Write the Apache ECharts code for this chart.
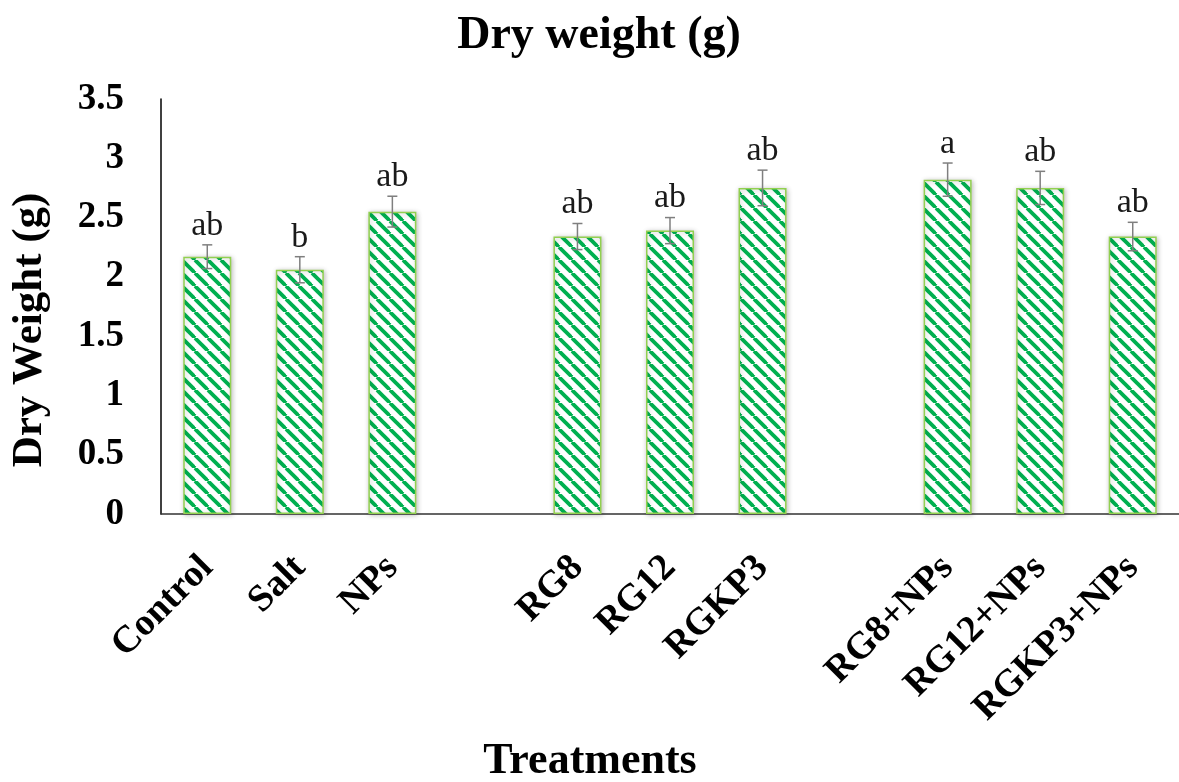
<!DOCTYPE html>
<html>
<head>
<meta charset="utf-8">
<script src="https://cdn.jsdelivr.net/npm/echarts@6/dist/echarts.min.js"></script>
<style>
html,body{margin:0;padding:0;background:#fff;}
#chart{width:1179px;height:782px;}
</style>
</head>
<body>
<div id="chart"></div>
<script>
const categories = ['Control','Salt','NPs','','RG8','RG12','RGKP3','','RG8+NPs','RG12+NPs','RGKP3+NPs'];
const dryWeight = [2.17, 2.06, 2.55, null, 2.34, 2.39, 2.75, null, 2.82, 2.75, 2.34];
const errors = [0.10, 0.11, 0.13, null, 0.11, 0.11, 0.15, null, 0.14, 0.14, 0.12];
const letters = ['ab','b','ab','','ab','ab','ab','','a','ab','ab'];
const yTicks = [0, 3.5, 0.5]; // min, max, interval

const FONT = '"Liberation Serif", "Times New Roman", serif';

function makePattern(){
  const s = 13;
  const c = document.createElement('canvas');
  c.width = s; c.height = s;
  const ctx = c.getContext('2d');
  ctx.fillStyle = '#ffffff';
  ctx.fillRect(0,0,s,s);
  ctx.strokeStyle = '#00b050';
  ctx.lineWidth = 3.8;
  for (const o of [-s, 0, s]) {
    ctx.beginPath();
    ctx.moveTo(o, 0);
    ctx.lineTo(o + s, s);
    ctx.stroke();
  }
  return c;
}

const chart = echarts.init(document.getElementById('chart'));
const errData = categories.map((c,i)=> dryWeight[i]==null ? null : [i, dryWeight[i], errors[i]]).filter(d=>d);

chart.setOption({
  animation:false,
  backgroundColor:'#ffffff',
  title:{
    text:'Dry weight (g)',
    left:594, top:8, textAlign:'center',
    textStyle:{fontFamily:FONT, fontWeight:'bold', fontSize:46, color:'#000'}
  },
  grid:{left:161, top:99, width:1020, height:415, containLabel:false},
  xAxis:{
    type:'category',
    data:categories,
    axisLine:{lineStyle:{color:'#333', width:1.5}},
    axisTick:{show:false},
    axisLabel:{rotate:45, interval:0, margin:48, fontFamily:FONT, fontWeight:'bold', fontSize:38, color:'#000'}
  },
  yAxis:{
    type:'value',
    min:yTicks[0], max:yTicks[1], interval:yTicks[2],
    axisLine:{show:true, lineStyle:{color:'#000', width:1.5}},
    axisTick:{show:false},
    splitLine:{show:false},
    axisLabel:{margin:37, fontFamily:FONT, fontWeight:'bold', fontSize:37, color:'#000'}
  },
  graphic:[
    {type:'text', x:30, y:330, rotation:Math.PI/2,
     style:{text:'Dry Weight (g)', font:'bold 43px ' + FONT, fill:'#000', textAlign:'center', textVerticalAlign:'middle'}},
    {type:'text', x:590, y:762,
     style:{text:'Treatments', font:'bold 44px ' + FONT, fill:'#000', textAlign:'center', textVerticalAlign:'middle'}}
  ],
  series:[
    {
      type:'bar',
      data:dryWeight,
      barWidth:48,
      itemStyle:{
        color:{image:makePattern(), repeat:'repeat'},
        borderColor:'#92d050', borderWidth:1.5,
        shadowBlur:5, shadowColor:'rgba(0,0,0,0.25)', shadowOffsetX:1, shadowOffsetY:1
      }
    },
    {
      type:'custom',
      data:errData,
      z:5,
      renderItem:function(params, api){
        const i = api.value(0), v = api.value(1), e = api.value(2);
        const top = api.coord([i, v + e]);
        const bot = api.coord([i, v - e]);
        const x = top[0];
        const cap = 5;
        const st = {stroke:'#7f7f7f', lineWidth:1.5};
        return {type:'group', children:[
          {type:'line', shape:{x1:x, y1:top[1], x2:x, y2:bot[1]}, style:st},
          {type:'line', shape:{x1:x-cap, y1:top[1], x2:x+cap, y2:top[1]}, style:st},
          {type:'line', shape:{x1:x-cap, y1:bot[1], x2:x+cap, y2:bot[1]}, style:st},
          {type:'text', x:x, y:top[1]-2, style:{text:letters[i], font:'34px ' + FONT, fill:'#1a1a1a', textAlign:'center', textVerticalAlign:'bottom'}}
        ]};
      }
    }
  ]
});
</script>
</body>
</html>
